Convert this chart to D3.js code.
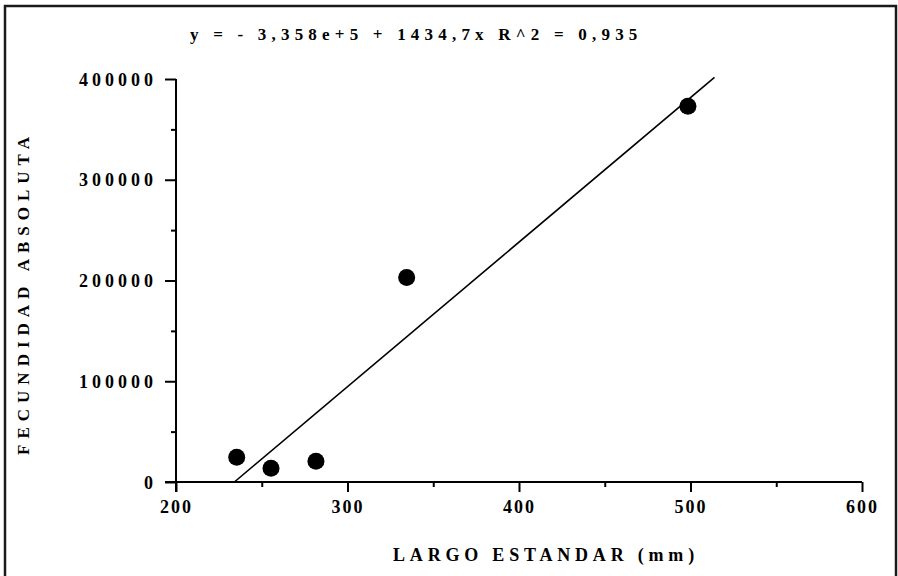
<!DOCTYPE html>
<html>
<head>
<meta charset="utf-8">
<script src="https://cdn.jsdelivr.net/npm/d3@7/dist/d3.min.js"></script>
<style>
  html, body { margin: 0; padding: 0; background: #fff; }
  svg { display: block; }
  text { font-family: "Liberation Serif", "Times New Roman", serif; font-weight: bold; fill: #000; }
</style>
</head>
<body>
<svg id="chart" width="898" height="576"></svg>
<script>
// Largo estándar (mm) vs fecundidad absoluta
const largo = [235.4, 255.4, 281.6, 334.5, 498.5];
const fecundidad = [24500, 13600, 20500, 203000, 373000];

// Ajuste lineal y = a + b·x
const intercepto = -335800;
const pendiente = 1434.7;
const rangoRecta = [234.05, 514];

const xTicksMayores = [200, 300, 400, 500, 600];
const xTicksMenores = [250, 350, 450, 550];
const yTicksMayores = [0, 100000, 200000, 300000, 400000];
const yTicksMenores = [50000, 150000, 250000, 350000];

const ecuacion = "y = - 3,358e+5 + 1434,7x R^2 = 0,935";
const tituloX = "LARGO ESTANDAR (mm)";
const tituloY = "FECUNDIDAD ABSOLUTA";

const svg = d3.select("#chart");

// Marco exterior
svg.append("rect")
  .attr("x", 5).attr("y", 6)
  .attr("width", 891).attr("height", 580)
  .attr("fill", "none").attr("stroke", "#1a1a1a").attr("stroke-width", 2.5);

const x = d3.scaleLinear().domain([200, 600]).range([176, 862]);
const y = d3.scaleLinear().domain([0, 400000]).range([482, 79]);

// Eje X
const gx = svg.append("g").attr("transform", `translate(0,${y(0)})`);
gx.call(d3.axisBottom(x).tickValues(xTicksMayores).tickSize(10).tickSizeOuter(0).tickFormat(d3.format("d")));
gx.append("g").call(d3.axisBottom(x).tickValues(xTicksMenores).tickSize(5).tickSizeOuter(0).tickFormat(""))
  .select(".domain").remove();
gx.select(".domain").attr("d", `M${x(200) - 11},0H${x(600)}`);

// Eje Y
const gy = svg.append("g").attr("transform", `translate(${x(200)},0)`);
gy.call(d3.axisLeft(y).tickValues(yTicksMayores).tickSize(11).tickSizeOuter(0).tickFormat(d3.format("d")));
gy.append("g").call(d3.axisLeft(y).tickValues(yTicksMenores).tickSize(5).tickSizeOuter(0).tickFormat(""))
  .select(".domain").remove();
gy.select(".domain").attr("d", `M0,${y(400000)}V${y(0) + 10}`);

svg.selectAll(".domain, .tick line").attr("stroke", "#000").attr("stroke-width", 2);

gx.selectAll(".tick text")
  .attr("y", 18).attr("dy", "0.71em")
  .style("font-size", "18px").style("letter-spacing", "2px")
  .style("font-family", "'Liberation Serif', serif").style("font-weight", "bold");
gy.selectAll(".tick text")
  .attr("x", -19).attr("dy", "0.34em")
  .style("font-size", "18px").style("letter-spacing", "4px")
  .style("font-family", "'Liberation Serif', serif").style("font-weight", "bold");

// Recta de regresión
const recta = rangoRecta.map(v => [v, intercepto + pendiente * v]);
svg.append("path")
  .datum(recta)
  .attr("d", d3.line().x(d => x(d[0])).y(d => y(d[1])))
  .attr("fill", "none").attr("stroke", "#000").attr("stroke-width", 1.6);

// Puntos observados
svg.selectAll("circle.obs")
  .data(largo.map((v, i) => [v, fecundidad[i]]))
  .join("circle")
  .attr("class", "obs")
  .attr("cx", d => x(d[0])).attr("cy", d => y(d[1]))
  .attr("r", 8.5).attr("fill", "#000");

// Ecuación del ajuste
svg.append("text")
  .attr("x", 190).attr("y", 40)
  .style("font-size", "17px").style("letter-spacing", "5.2px")
  .text(ecuacion);

// Títulos de los ejes
svg.append("text")
  .attr("x", 546).attr("y", 561)
  .attr("text-anchor", "middle")
  .style("font-size", "18px").style("letter-spacing", "4.8px")
  .text(tituloX);

svg.append("text")
  .attr("transform", "translate(29,293) rotate(-90)")
  .attr("text-anchor", "middle")
  .style("font-size", "17px").style("letter-spacing", "6px")
  .text(tituloY);
</script>
</body>
</html>
